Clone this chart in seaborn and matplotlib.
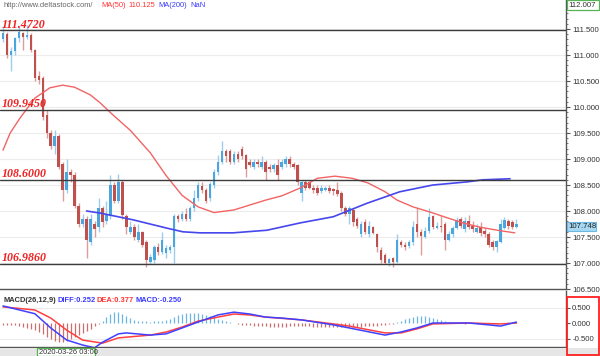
import matplotlib
matplotlib.use("Agg")
import matplotlib.pyplot as plt
import seaborn as sns
from matplotlib.patches import Rectangle
from matplotlib.ticker import MultipleLocator

# ---------------- data ----------------
opens = [111.30, 111.40, 111.00, 111.08, 111.32, 111.42, 111.35, 111.38, 111.10, 110.60,
         110.55, 109.85, 109.50, 109.25, 109.45, 108.90, 108.40, 108.75, 108.70, 108.10,
         107.75, 107.85, 107.40, 107.75, 107.70, 108.05, 107.80, 107.90, 108.50, 108.20,
         108.55, 107.90, 107.60, 107.70, 107.45, 107.60, 107.40, 107.02, 107.05, 107.30,
         107.22, 107.20, 107.25, 107.30, 107.90, 107.85, 107.95, 107.85, 108.05, 108.25,
         108.48, 108.40, 108.25, 108.50, 108.75, 108.95, 109.15, 109.15, 108.95, 109.10,
         109.20, 109.08, 108.95, 108.85, 108.95, 108.85, 108.95, 108.85, 108.80, 108.88,
         108.85, 108.90, 109.00, 108.90, 108.88, 108.35, 108.55, 108.55, 108.45, 108.45,
         108.38, 108.40, 108.45, 108.42, 108.40, 108.35, 108.05, 107.95, 108.02, 107.85,
         107.55, 107.78, 107.55, 107.70, 107.55, 107.25, 107.15, 107.00, 107.10, 107.02,
         107.40, 107.35, 107.32, 107.40, 107.75, 107.60, 107.50, 107.62, 107.90, 107.68,
         107.72, 107.75, 107.45, 107.55, 107.68, 107.85, 107.65, 107.80, 107.72, 107.60,
         107.70, 107.62, 107.55, 107.40, 107.30, 107.40, 107.68, 107.80, 107.78, 107.70]
highs = [111.55, 111.45, 111.15, 111.35, 111.55, 111.45, 111.58, 111.42, 111.12, 110.70,
         110.60, 109.95, 109.55, 109.55, 109.48, 108.95, 109.00, 108.80, 108.75, 108.15,
         107.95, 107.90, 107.95, 107.80, 108.25, 108.10, 108.20, 108.70, 108.55, 108.72,
         108.60, 107.95, 107.80, 107.75, 107.75, 107.62, 107.45, 107.18, 107.35, 107.38,
         107.60, 107.35, 107.35, 107.95, 107.95, 108.00, 108.05, 108.10, 108.40, 108.55,
         108.55, 108.45, 108.55, 108.80, 109.08, 109.35, 109.20, 109.20, 109.15, 109.15,
         109.25, 109.10, 109.00, 109.00, 109.00, 109.05, 108.98, 108.90, 108.92, 109.00,
         109.00, 109.05, 109.05, 108.95, 108.90, 108.60, 108.60, 108.58, 108.50, 108.50,
         108.50, 108.48, 108.50, 108.45, 108.55, 108.38, 108.10, 108.10, 108.05, 107.88,
         107.80, 107.85, 107.80, 107.72, 107.58, 107.30, 107.20, 107.10, 107.12, 107.55,
         107.45, 107.40, 107.45, 107.80, 108.05, 107.65, 107.70, 108.05, 107.92, 107.78,
         107.90, 107.78, 107.62, 107.72, 107.88, 107.88, 107.88, 107.92, 107.80, 107.75,
         107.78, 107.68, 107.60, 107.45, 107.45, 107.85, 107.88, 107.85, 107.82, 107.85]
lows = [111.25, 110.95, 110.70, 111.00, 111.25, 111.10, 111.30, 111.05, 110.50, 110.45,
        109.75, 109.40, 109.20, 109.10, 108.80, 108.20, 108.35, 108.55, 108.05, 107.70,
        107.70, 107.10, 107.35, 107.50, 107.60, 107.70, 107.75, 107.85, 108.15, 108.15,
        107.85, 107.55, 107.55, 107.45, 107.40, 107.30, 106.92, 106.98, 107.00, 107.15,
        107.18, 107.10, 107.20, 107.00, 107.78, 107.80, 107.80, 107.80, 108.00, 108.20,
        108.35, 108.15, 108.20, 108.45, 108.70, 108.90, 108.95, 108.90, 108.90, 108.95,
        109.00, 108.65, 108.85, 108.80, 108.85, 108.80, 108.60, 108.75, 108.75, 108.60,
        108.80, 108.85, 108.85, 108.80, 108.50, 108.20, 108.40, 108.42, 108.35, 108.30,
        108.35, 108.38, 108.35, 108.30, 108.28, 108.00, 107.90, 107.75, 107.72, 107.68,
        107.50, 107.55, 107.50, 107.55, 107.22, 107.00, 106.98, 106.95, 106.92, 107.00,
        107.30, 107.25, 107.28, 107.35, 107.50, 107.15, 107.48, 107.58, 107.65, 107.65,
        107.60, 107.25, 107.42, 107.50, 107.65, 107.68, 107.60, 107.65, 107.60, 107.58,
        107.52, 107.50, 107.30, 107.25, 107.22, 107.38, 107.65, 107.65, 107.65, 107.68]
closes = [111.42, 111.00, 111.08, 111.32, 111.45, 111.35, 111.38, 111.10, 110.55, 110.52,
          109.80, 109.50, 109.25, 109.45, 108.85, 108.40, 108.75, 108.70, 108.10, 107.75,
          107.85, 107.45, 107.85, 107.65, 108.05, 107.78, 107.95, 108.50, 108.20, 108.55,
          107.92, 107.70, 107.70, 107.50, 107.60, 107.35, 107.05, 107.12, 107.30, 107.22,
          107.45, 107.28, 107.30, 107.90, 107.85, 107.95, 107.85, 108.05, 108.25, 108.50,
          108.40, 108.20, 108.52, 108.75, 108.95, 109.15, 109.05, 108.95, 109.10, 109.00,
          109.05, 108.80, 108.88, 108.95, 108.90, 108.95, 108.75, 108.80, 108.88, 108.70,
          108.95, 109.00, 108.90, 108.85, 108.55, 108.55, 108.45, 108.45, 108.40, 108.35,
          108.45, 108.45, 108.38, 108.38, 108.32, 108.05, 107.95, 108.05, 107.78, 107.72,
          107.75, 107.60, 107.72, 107.58, 107.30, 107.05, 107.00, 107.08, 107.02, 107.45,
          107.35, 107.30, 107.40, 107.70, 107.60, 107.52, 107.62, 107.88, 107.70, 107.72,
          107.70, 107.45, 107.55, 107.68, 107.82, 107.72, 107.80, 107.70, 107.65, 107.68,
          107.58, 107.55, 107.35, 107.30, 107.42, 107.75, 107.82, 107.72, 107.70, 107.75]

ma50_idx = [0, 1.8, 4.3, 8, 11.8, 15, 18, 22, 24.4, 27.6, 32, 37, 41, 45, 49, 53, 58, 66, 70,
            74.6, 79, 83.4, 87.7, 91.7, 96, 99, 103, 107.3, 111.6, 115.6, 119.8, 125, 128.6]
ma50_val = [109.17, 109.50, 109.79, 110.17, 110.37, 110.42, 110.38, 110.23, 110.08, 109.85,
            109.55, 109.12, 108.68, 108.30, 108.08, 107.97, 108.02, 108.21, 108.29, 108.44,
            108.63, 108.67, 108.63, 108.54, 108.37, 108.21, 108.08, 107.98, 107.87, 107.77,
            107.69, 107.62, 107.58]
ma200_idx = [21, 24.4, 32.7, 41.2, 45.2, 49.5, 57.8, 66.3, 74.6, 83, 91.5, 99.7, 108, 116.6,
             120.6, 127.4]
ma200_val = [108.00, 107.96, 107.83, 107.67, 107.60, 107.58, 107.58, 107.63, 107.77, 107.89,
             108.15, 108.37, 108.50, 108.56, 108.60, 108.62]

levels = [111.4720, 109.9450, 108.6000, 106.9860]
level_labels = ["111.4720", "109.9450", "108.6000", "106.9860"]

macd_hist = [-0.05, -0.06, -0.07, -0.08, -0.10, -0.14, -0.16, -0.18, -0.22, -0.28,
             -0.36, -0.44, -0.52, -0.58, -0.60, -0.60, -0.58, -0.52, -0.45, -0.38,
             -0.32, -0.25, -0.18, -0.10, -0.04, 0.08, 0.18, 0.28, 0.34, 0.35,
             0.30, 0.22, 0.15, 0.10, 0.08, 0.06, 0.05, 0.04, 0.05, 0.06,
             0.08, 0.10, 0.14, 0.20, 0.26, 0.30, 0.32, 0.33, 0.33, 0.32,
             0.30, 0.26, 0.22, 0.18, 0.14, 0.10, 0.06, 0.03, 0.01, -0.04,
             -0.06, -0.08, -0.08, -0.09, -0.10, -0.10, -0.11, -0.12, -0.12, -0.12,
             -0.12, -0.12, -0.11, -0.11, -0.10, -0.10, -0.10, -0.11, -0.12, -0.12,
             -0.13, -0.13, -0.13, -0.14, -0.14, -0.14, -0.14, -0.13, -0.13, -0.12,
             -0.12, -0.11, -0.11, -0.10, -0.09, -0.08, -0.06, -0.04, -0.02, 0.04,
             0.08, 0.12, 0.16, 0.19, 0.21, 0.22, 0.21, 0.19, 0.16, 0.13,
             0.10, 0.07, 0.04, 0.02, 0.01, -0.01, -0.02, 0.01, 0.03, 0.02,
             0.01, -0.01, -0.02, -0.03, -0.02, -0.01, 0.01, 0.02, 0.03, 0.04]
diff_idx = [0, 8, 12, 16, 20, 23, 25, 29, 31, 37, 41, 45, 49, 54, 58, 62, 66, 70, 75, 83,
            87, 96, 100, 104, 108, 117, 122, 125, 129]
diff_val = [0.55, 0.30, -0.16, -0.55, -0.71, -0.80, -0.62, -0.35, -0.32, -0.39, -0.35, -0.16,
            0.03, 0.26, 0.35, 0.29, 0.19, 0.16, 0.10, -0.06, -0.16, -0.39, -0.29, -0.16,
            0.00, 0.00, -0.06, -0.10, 0.03]
dea_idx = [0, 8, 12, 16, 20, 25, 29, 37, 41, 45, 49, 54, 58, 62, 66, 75, 83, 87, 96, 100,
           104, 108, 117, 125, 129]
dea_val = [0.52, 0.42, 0.16, -0.23, -0.55, -0.65, -0.48, -0.39, -0.29, -0.13, 0.06, 0.19,
           0.29, 0.26, 0.19, 0.10, -0.03, -0.10, -0.32, -0.32, -0.19, -0.03, 0.00, -0.03, 0.00]

price_ticks = [106.5, 107.0, 107.5, 108.0, 108.5, 109.0, 109.5, 110.0, 110.5, 111.0, 111.5]
macd_ticks = [-0.5, 0.0, 0.5]

# ---------------- style ----------------
sns.set_style("white")
plt.rcParams['font.family'] = ['Liberation Sans', 'DejaVu Sans']

W, H = 600, 356
fig = plt.figure(figsize=(6, 3.56), dpi=100)
fig.patch.set_facecolor('white')


def fr(x0, y0, x1, y1):
    return [x0 / W, 1 - y1 / H, (x1 - x0) / W, (y1 - y0) / H]


ax = fig.add_axes(fr(0, 0, 566, 289))
axm = fig.add_axes(fr(0, 291, 566, 347))

dx = 3.98
xl = (-3 / dx, (566 - 3) / dx)

UP, DOWN = '#4ba6dd', '#c0504d'
UPW, DOWNW = '#9ccdec', '#dc9d9b'

# gridlines
for t in price_ticks:
    ax.axhline(t, color='#ececec', lw=0.8, zorder=0)

# candles
xs = list(range(len(closes)))
for i in xs:
    o, h, l, c = opens[i], highs[i], lows[i], closes[i]
    up = c >= o
    ax.vlines(i, l, h, color=UPW if up else DOWNW, lw=1.0, zorder=2)
    ax.bar(i, max(abs(c - o), 0.012), bottom=min(o, c), width=0.64,
           color=UP if up else DOWN, edgecolor='none', linewidth=0, zorder=3)

sns.lineplot(x=ma50_idx, y=ma50_val, ax=ax, color='#f26464', lw=1.0, zorder=4, legend=False)
sns.lineplot(x=ma200_idx, y=ma200_val, ax=ax, color='#4646ee', lw=1.2, zorder=4, legend=False)

for lv, lab in zip(levels, level_labels):
    ax.axhline(lv, color='#3c3c3c', lw=1.0, zorder=5)
    ax.text(xl[0] + 2 / dx, lv + 2.5 / 52, lab, color='#f02020',
            family=['Liberation Serif', 'DejaVu Serif'], fontweight='bold', fontstyle='italic',
            fontsize=8.6, va='baseline', ha='left', zorder=6)

ax.set_xlim(*xl)
ax.set_ylim(112.058 - 289 / 52, 112.058)
ax.yaxis.tick_right()
ax.set_yticks(price_ticks)
ax.set_yticklabels([f"{t:.3f}" for t in price_ticks])
ax.yaxis.set_minor_locator(MultipleLocator(0.1))
ax.tick_params(axis='y', which='major', direction='out', length=3, width=0.8,
               colors='#555555', labelsize=5.6, pad=1.5, labelcolor='#333333')
ax.tick_params(axis='y', which='minor', direction='out', length=1.5, width=0.7, colors='#777777')
ax.set_xticks([])
for s in ['top', 'left']:
    ax.spines[s].set_visible(False)
for s in ['right', 'bottom']:
    ax.spines[s].set_color('#555555')
    ax.spines[s].set_linewidth(1.0)
ax.set_xlabel('')
ax.set_ylabel('')

# ---------------- MACD ----------------
for t in [-0.5, 0.5]:
    axm.axhline(t, color='#ececec', lw=0.8, zorder=0)
for i in xs:
    v = macd_hist[i]
    axm.vlines(i, 0, v, color='#c96f6c' if v < 0 else '#6cb6e2', lw=0.9, zorder=2)
sns.lineplot(x=dea_idx, y=dea_val, ax=axm, color='#ff4040', lw=1.1, zorder=3, legend=False)
sns.lineplot(x=diff_idx, y=diff_val, ax=axm, color='#4040ff', lw=1.1, zorder=4, legend=False)
axm.set_xlim(*xl)
axm.set_ylim((323 - 347) / 31, (323 - 291) / 31)
axm.yaxis.tick_right()
axm.set_yticks(macd_ticks)
axm.set_yticklabels([f"{t:.3f}" for t in macd_ticks])
axm.tick_params(axis='y', which='major', direction='out', length=3, width=0.8,
                colors='#555555', labelsize=5.6, pad=1.5, labelcolor='#333333')
axm.set_xticks([])
for s in ['top', 'left']:
    axm.spines[s].set_visible(False)
for s in ['right', 'bottom']:
    axm.spines[s].set_color('#555555')
    axm.spines[s].set_linewidth(1.0)
axm.set_xlabel('')
axm.set_ylabel('')


def px(x, y):
    return x / W, 1 - y / H


# header texts
fig.text(*px(3, 5.5), "http://www.deltastock.com/", color='#666666', fontsize=5.4, va='center')
fig.text(*px(101, 5.5), "MA(50)", color='#ff3333', fontsize=5.4, va='center')
fig.text(*px(128, 5.5), "110.125", color='#ff3333', fontsize=5.4, va='center')
fig.text(*px(158, 5.5), "MA(200)", color='#3a3aff', fontsize=5.4, va='center')
fig.text(*px(190, 5.5), "NaN", color='#3a3aff', fontsize=5.4, va='center')

fig.text(*px(3, 300.5), "MACD(26,12,9)", color='#333333', fontsize=5.4, va='center', fontweight='bold')
fig.text(*px(57, 300.5), "DIFF:0.252", color='#3a3aff', fontsize=5.4, va='center', fontweight='bold')
fig.text(*px(97, 300.5), "DEA:0.377", color='#ff3333', fontsize=5.4, va='center', fontweight='bold')
fig.text(*px(135, 300.5), "MACD:-0.250", color='#3a3aff', fontsize=5.4, va='center', fontweight='bold')


# boxes
def box(x0, y0, x1, y1, fc, ec, lw=1.0, z=1):
    fig.patches.append(Rectangle(px(x0, y1), (x1 - x0) / W, (y1 - y0) / H,
                                 transform=fig.transFigure, facecolor=fc, edgecolor=ec,
                                 linewidth=lw, zorder=z))


box(0, 347.5, 600, 356, '#e6e6e6', 'none', 0)
box(37, 347.5, 95, 356, 'white', '#56b456', 0.9, 3)
fig.text(*px(39, 352), "2020-03-26 03:00", color='#333333', fontsize=5.4, va='center', zorder=4)

box(566.5, 297, 599, 355, 'none', '#ff2020', 1.3, 3)
box(566.5, 0.5, 599, 10, 'white', '#56b456', 0.9, 3)
fig.text(*px(568, 5.5), "112.007", color='#333333', fontsize=5.6, va='center', zorder=4)
box(566.5, 222, 596, 231, '#a6d8f2', '#6cb8e4', 0.8, 3)
fig.text(*px(568, 226.5), "107.748", color='#222222', fontsize=5.6, va='center', zorder=4)

fig.savefig("out.png", dpi=100)
